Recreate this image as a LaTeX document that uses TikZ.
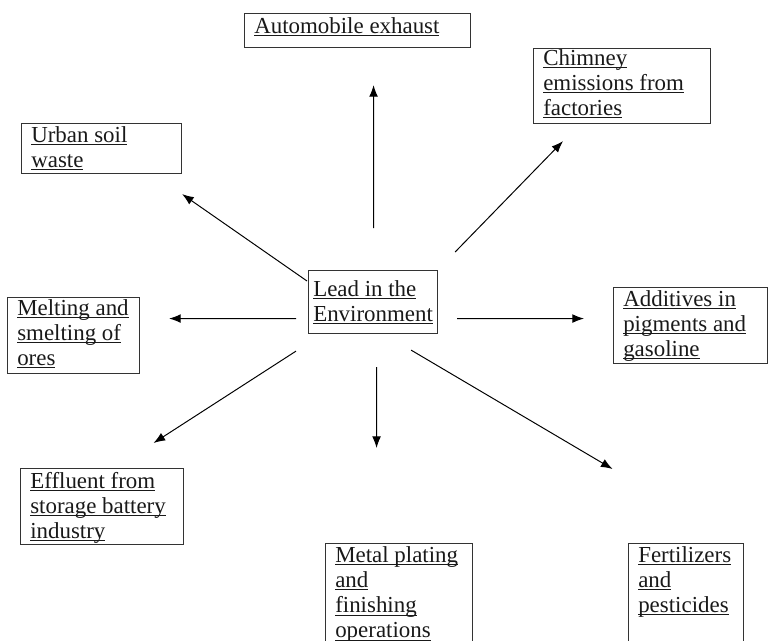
\documentclass[tikz,border=0pt]{standalone}
\usepackage{fontspec}
\setmainfont{Liberation Serif}
\usepackage{tikz}
\usetikzlibrary{calc,arrows.meta}
\newcommand{\souligne}[1]{\underline{\smash{#1}}}
\tikzstyle{cadre} = [rectangle, draw=black!80, line width=0.8pt, anchor=north west, inner sep=0pt]
\tikzstyle{texte} = [anchor=north west, inner sep=0pt, align=left, text=black!90, font=\fontsize{16.3}{17.9}\selectfont]
\tikzstyle{fleche} = [-{Latex[length=2.9mm,width=2.2mm]}, line width=0.7pt]

\begin{document}
\begin{tikzpicture}
        \useasboundingbox (0,0) rectangle (19.2,-16.025);

        \node (centre) [cadre, minimum width=3.225cm, minimum height=1.575cm] at (7.7,-6.75) {};
        \node (centreT) [texte] at ($(centre.north west) + (0.125,-0.65)$) {\souligne{Lead in the}\\ \souligne{Environment}};

        \node (auto) [cadre, minimum width=5.65cm, minimum height=0.85cm] at (6.1,-0.325) {};
        \node (autoT) [texte] at ($(auto.north west) + (0.25,-0.5)$) {\souligne{Automobile exhaust}};

        \node (chem) [cadre, minimum width=4.425cm, minimum height=1.875cm] at (13.325,-1.2) {};
        \node (chemT) [texte] at ($(chem.north west) + (0.25,-0.43)$) {\souligne{Chimney}\\ \souligne{emissions from}\\ \souligne{factories}};

        \node (urbain) [cadre, minimum width=4cm, minimum height=1.25cm] at (0.525,-3.075) {};
        \node (urbainT) [texte] at ($(urbain.north west) + (0.25,-0.475)$) {\souligne{Urban soil}\\ \souligne{waste}};

        \node (fonte) [cadre, minimum width=3.3cm, minimum height=1.9cm] at (0.175,-7.425) {};
        \node (fonteT) [texte] at ($(fonte.north west) + (0.25,-0.45)$) {\souligne{Melting and}\\ \souligne{smelting of}\\ \souligne{ores}};

        \node (additif) [cadre, minimum width=3.85cm, minimum height=1.9cm] at (15.325,-7.175) {};
        \node (additifT) [texte] at ($(additif.north west) + (0.25,-0.475)$) {\souligne{Additives in}\\ \souligne{pigments and}\\ \souligne{gasoline}};

        \node (effluent) [cadre, minimum width=4.075cm, minimum height=1.9cm] at (0.5,-11.7) {};
        \node (effluentT) [texte] at ($(effluent.north west) + (0.25,-0.5)$) {\souligne{Effluent from}\\ \souligne{storage battery}\\ \souligne{industry}};

        \node (metal) [cadre, minimum width=3.675cm, minimum height=2.75cm] at (8.125,-13.575) {};
        \node (metalT) [texte] at ($(metal.north west) + (0.25,-0.48)$) {\souligne{Metal plating}\\ \souligne{and}\\ \souligne{finishing}\\ \souligne{operations}};

        \node (engrais) [cadre, minimum width=2.875cm, minimum height=2.75cm] at (15.7,-13.575) {};
        \node (engraisT) [texte] at ($(engrais.north west) + (0.25,-0.475)$) {\souligne{Fertilizers}\\ \souligne{and}\\ \souligne{pesticides}};

        % fleches depuis le centre
        \draw [fleche] ($(centre.north) + (0.0125,1.05)$) -- ($(auto.south) + (0.4,-0.925)$);
        \draw [fleche] ($(centre.north east) + (0.425,0.45)$) -- ($(chem.south west) + (0.75,-0.425)$);
        \draw [fleche] ($(centre.north west) + (-0.025,-0.275)$) -- ($(urbain.south east) + (0,-0.5)$);
        \draw [fleche] ($(centre.west) + (-0.3,-0.4125)$) -- ($(fonte.east) + (0.725,0.425)$);
        \draw [fleche] ($(centre.east) + (0.475,-0.4125)$) -- ($(additif.west) + (-0.725,0.175)$);
        \draw [fleche] ($(centre.south west) + (-0.3,-0.425)$) -- ($(effluent.north) + (1.2875,0.625)$);
        \draw [fleche] ($(centre.south) + (0.0875,-0.825)$) -- ($(metal.north) + (-0.5625,2.375)$);
        \draw [fleche] ($(centre.south east) + (-0.675,-0.4)$) -- ($(engrais.north) + (-1.8375,1.85)$);

    \end{tikzpicture}
\end{document}
